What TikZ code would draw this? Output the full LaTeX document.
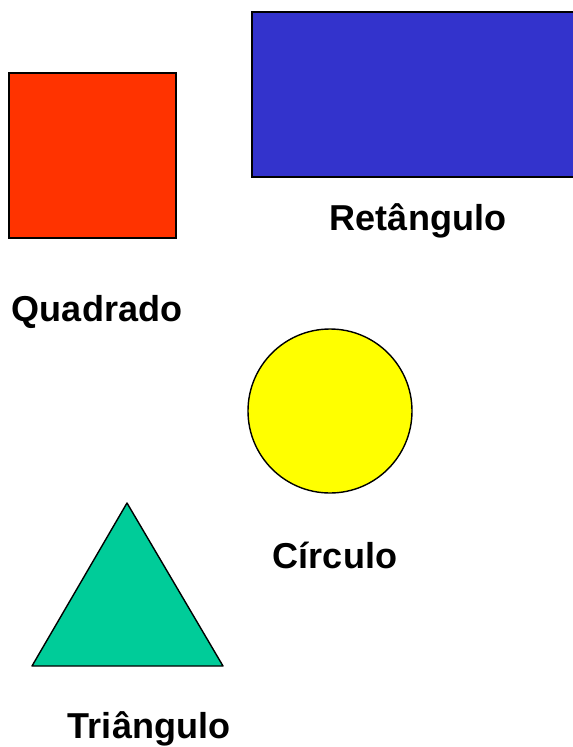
\documentclass[tikz,border=0pt]{standalone}
\usepackage{fontspec}
\setmainfont{Liberation Sans}
\usepackage{tikz}
\usetikzlibrary{calc}

\definecolor{quadcolor}{HTML}{FF3300}
\definecolor{retcolor}{HTML}{3333CC}
\definecolor{circcolor}{HTML}{FFFF00}
\definecolor{tricolor}{HTML}{00CC99}

\tikzset{
    shapelabel/.style={anchor=base, font=\fontsize{20.5}{24}\selectfont\bfseries, inner sep=0pt}
}

\begin{document}
\begin{tikzpicture}[x=0.02cm, y=-0.02cm, thick]
            \useasboundingbox (0, 0) rectangle (573, 747);

            % quadrado
            \coordinate (Q1) at (9, 73);
            \coordinate (Q2) at (176, 238);
            \draw[fill=quadcolor] (Q1) rectangle (Q2);
            \node[shapelabel] (quadrado) at (97, 321) {Quadrado};

            % retangulo (sai pela borda direita)
            \coordinate (R1) at (252, 12);
            \coordinate (R2) at (580, 177);
            \draw[fill=retcolor] (R1) rectangle (R2);
            \node[shapelabel] (retangulo) at (418, 230) {Retângulo};

            % circulo
            \coordinate (C) at (330, 411);
            \draw[fill=circcolor] (C) circle[radius=82];
            \node[shapelabel] (circulo) at (335, 568) {Círculo};

            % triangulo
            \coordinate (T1) at (32, 666);
            \coordinate (T2) at (223, 666);
            \coordinate (T3) at (127, 503);
            \draw[fill=tricolor, line join=round] (T1) -- (T2) -- (T3) -- cycle;
            \node[shapelabel] (triangulo) at (149, 738) {Triângulo};
\end{tikzpicture}
\end{document}
